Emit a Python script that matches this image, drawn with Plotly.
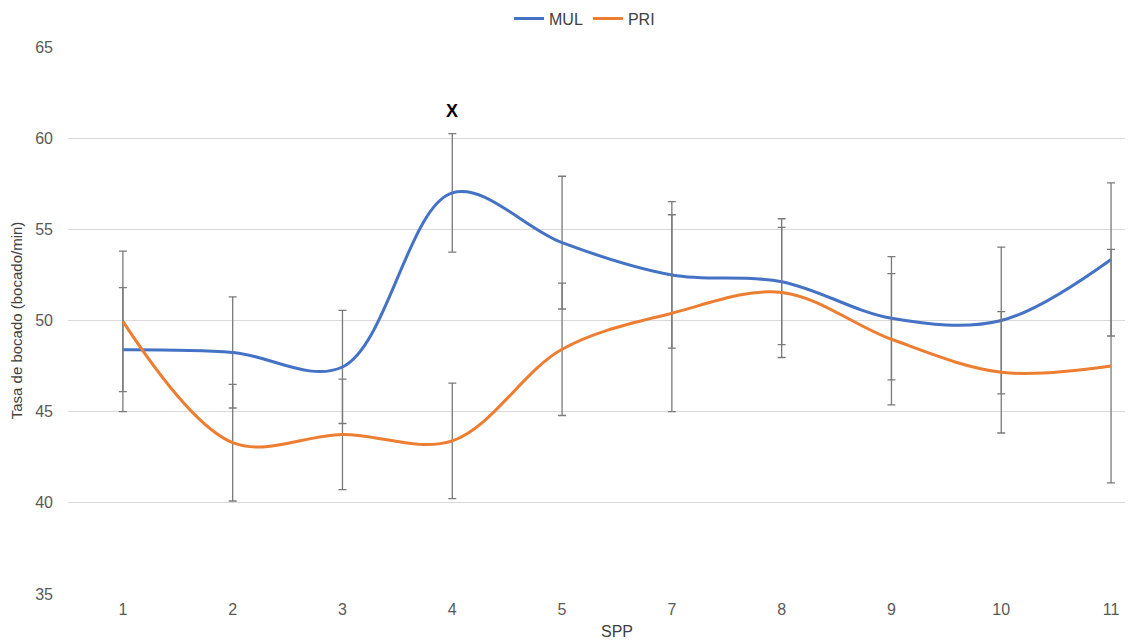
import plotly.graph_objects as go

categories = ["1", "2", "3", "4", "5", "7", "8", "9", "10", "11"]
mul = [48.4, 48.25, 47.45, 57.0, 54.27, 52.5, 52.13, 50.12, 50.0, 53.35]
mul_err = [3.4, 3.05, 3.1, 3.25, 3.64, 4.02, 3.45, 3.38, 4.02, 4.2]
pri = [49.95, 43.3, 43.75, 43.4, 48.42, 50.4, 51.54, 48.97, 47.16, 47.5]
pri_err = [3.85, 3.2, 3.03, 3.17, 3.63, 5.4, 3.57, 3.6, 3.33, 6.4]

xs = list(range(len(categories)))
font = "Liberation Sans, Arial, sans-serif"
err_style = dict(type="data", visible=True, color="#7a7a7a", thickness=1.3, width=4)

fig = go.Figure()
fig.add_trace(go.Scatter(
    x=xs, y=mul, name="MUL", mode="lines",
    line=dict(color="#4472C4", width=3, shape="spline", smoothing=1.0),
    error_y=dict(array=mul_err, **err_style),
))
fig.add_trace(go.Scatter(
    x=xs, y=pri, name="PRI", mode="lines",
    line=dict(color="#ED7D31", width=3, shape="spline", smoothing=1.0),
    error_y=dict(array=pri_err, **err_style),
))

fig.add_annotation(x=3, y=60.3, xref="x", yref="y", text="<b>X</b>", showarrow=False,
                   yanchor="bottom", yshift=10, font=dict(family=font, size=18, color="#000000"))
fig.add_annotation(x=4.5, y=0, xref="x", yref="paper", text="SPP", showarrow=False,
                   yanchor="top", yshift=-27, font=dict(family=font, size=16, color="#404040"))

fig.update_layout(
    width=1125, height=633,
    margin=dict(l=60, r=0, t=39, b=47, autoexpand=False),
    paper_bgcolor="white", plot_bgcolor="white",
    font=dict(family=font, size=15, color="#595959"),
    showlegend=True,
    legend=dict(orientation="h", x=0.485, xanchor="center", y=1.052, yanchor="middle",
                font=dict(family=font, size=16, color="#404040"), itemwidth=30),
    xaxis=dict(
        tickmode="array", tickvals=xs, ticktext=categories, automargin=False,
        range=[-0.5, 9.2], showgrid=False, zeroline=False, showline=False,
        ticks="", ticklabelstandoff=4, tickfont=dict(size=16, color="#595959"),
    ),
    yaxis=dict(
        range=[35, 65], dtick=5, tick0=35, showgrid=True, gridcolor="#d9d9d9", gridwidth=1,
        zeroline=False, showline=False, ticks="", ticklabelstandoff=14, automargin=False,
        tickfont=dict(size=16, color="#595959"),
        title=dict(text="Tasa de bocado (bocado/min)", standoff=8,
                   font=dict(family=font, size=15, color="#404040")),
    ),
)

fig.write_html("out.html")
